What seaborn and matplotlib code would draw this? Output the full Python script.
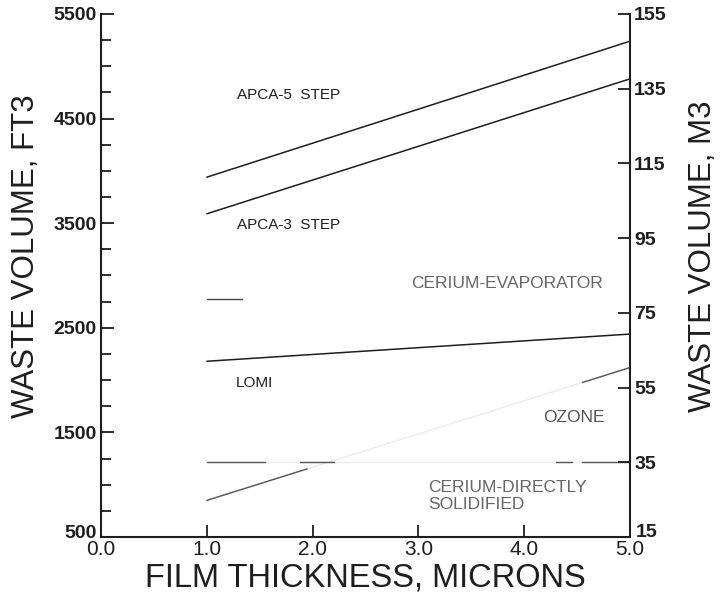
import numpy as np
import pandas as pd
import matplotlib
matplotlib.use("Agg")
import matplotlib.pyplot as plt
import matplotlib.transforms as mtransforms
import seaborn as sns

# Film thickness (microns) and waste volume (ft3) for each process
thickness = [1.0, 5.0]
apca5 = [3940, 5240]
apca3 = [3590, 4880]
lomi = [2180, 2440]
ozone = [850, 2120]
cerium_solid = [1215, 1215]
cerium_evap_x = [1.0, 1.33]
cerium_evap = [2780, 2780]

# portions of the faded curves that remain clearly printed (microns)
ozone_dark = [(1.0, 1.95), (4.55, 5.0)]
solid_dark = [(1.0, 1.55), (1.88, 2.2), (4.3, 4.45), (4.55, 5.0)]

x_ticks = [0.0, 1.0, 2.0, 3.0, 4.0, 5.0]
left_ticks = [500, 1500, 2500, 3500, 4500, 5500]
right_ticks = [15, 35, 55, 75, 95, 115, 135, 155]

sns.set_theme(style="ticks")
sans = ["Liberation Sans", "DejaVu Sans"]
plt.rcParams["font.family"] = sans

fig = plt.figure(figsize=(7.24, 6.01), dpi=100)
ax = fig.add_axes([101 / 724, 64 / 601, 529 / 724, 523 / 601])

ink = "#1e1e1e"
faint = "#ebebeb"

def series(xs, ys, name):
    return pd.DataFrame({"thickness": xs, "volume": ys, "process": name})

solid_lines = [("APCA-5 STEP", apca5), ("APCA-3 STEP", apca3), ("LOMI", lomi)]
for name, ys in solid_lines:
    sns.lineplot(data=series(thickness, ys, name), x="thickness", y="volume",
                 color=ink, lw=1.1, ax=ax, legend=False)

for name, ys, parts in [("OZONE", ozone, ozone_dark),
                        ("CERIUM-DIRECTLY SOLIDIFIED", cerium_solid, solid_dark)]:
    sns.lineplot(data=series(thickness, ys, name), x="thickness", y="volume",
                 color=faint, lw=1.0, ax=ax, legend=False)
    for a, b in parts:
        seg = np.interp([a, b], thickness, ys)
        sns.lineplot(data=series([a, b], seg, name), x="thickness", y="volume",
                     color="#555555", lw=1.0, ax=ax, legend=False)

sns.lineplot(data=series(cerium_evap_x, cerium_evap, "CERIUM-EVAPORATOR"),
             x="thickness", y="volume", color="#444444", lw=1.0, ax=ax, legend=False)

ax.set_xlim(0, 5)
ax.set_ylim(500, 5500)
ax.set_xticks(x_ticks)
ax.set_xticklabels([f"{v:.1f}" for v in x_ticks], fontsize=15)
ax.set_yticks(left_ticks)
ax.set_yticks(np.arange(500, 5501, 250), minor=True)
ax.set_yticklabels([str(v) for v in left_ticks], fontsize=14, fontweight="bold")
ax.tick_params(axis="both", which="major", direction="in", length=9, width=1.3,
               colors=ink, pad=3)
ax.tick_params(axis="y", which="minor", direction="in", length=7, width=1.3, colors=ink)
ax.tick_params(axis="x", which="major", pad=2)
ax.set_xlabel("FILM THICKNESS, MICRONS", fontsize=23.5, color=ink, labelpad=3)
ax.set_ylabel("WASTE VOLUME, FT3", fontsize=22.5, color=ink)
ax.yaxis.set_label_coords(-0.114, 0.537)
for s in ["left", "bottom"]:
    ax.spines[s].set_linewidth(1.5)
    ax.spines[s].set_color(ink)
ax.spines["top"].set_visible(False)
ax.spines["right"].set_visible(False)

# the corner labels sit a little apart so they do not collide
ax.get_yticklabels()[0].set_transform(
    ax.get_yaxis_transform(which="tick1")
    + mtransforms.ScaledTranslation(-3 / 72, 4 / 72, fig.dpi_scale_trans))

ax2 = ax.twinx()
ax2.set_ylim(15, 155)
ax2.set_yticks(right_ticks)
ax2.set_yticklabels([str(v) for v in right_ticks], fontsize=14, fontweight="bold")
ax2.tick_params(axis="y", direction="in", length=9, width=1.3, colors=ink, pad=3)
ax2.set_ylabel("WASTE VOLUME, M3", fontsize=22.5, color=ink)
ax2.yaxis.set_label_coords(1.110, 0.537)
ax2.spines["right"].set_linewidth(1.5)
ax2.spines["right"].set_color(ink)
for s in ["top", "left", "bottom"]:
    ax2.spines[s].set_visible(False)
ax2.get_yticklabels()[0].set_transform(
    ax2.get_yaxis_transform(which="tick2")
    + mtransforms.ScaledTranslation(4 / 72, 5 / 72, fig.dpi_scale_trans))

# curve labels
labels = [
    (1.29, 4726, "APCA-5  STEP", ink, 11),
    (1.29, 3483, "APCA-3  STEP", ink, 11),
    (2.93, 2928, "CERIUM-EVAPORATOR", "#666666", 12.5),
    (1.27, 1972, "LOMI", ink, 11),
    (4.18, 1638, "OZONE", "#555555", 12.5),
    (3.09, 978, "CERIUM-DIRECTLY", "#666666", 12.5),
    (3.09, 806, "SOLIDIFIED", "#666666", 12.5),
]
for x, y, txt, c, fs in labels:
    ax.text(x, y, txt, fontsize=fs, color=c, ha="left", va="center")

fig.savefig("out.png", dpi=100)
